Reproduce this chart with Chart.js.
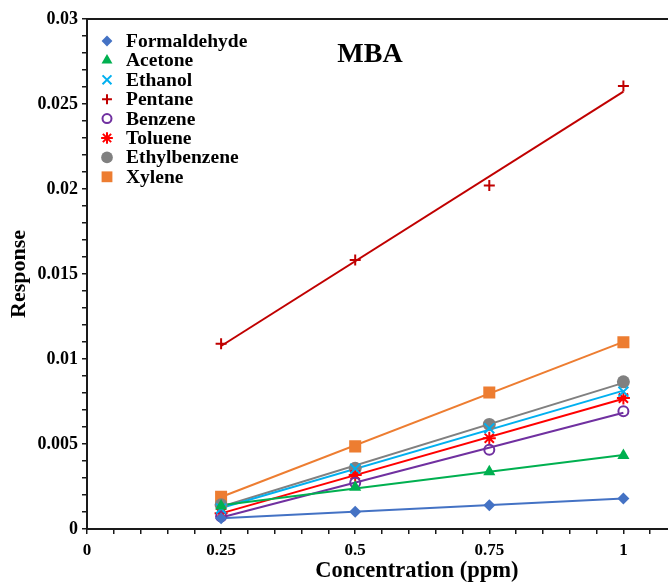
<!DOCTYPE html>
<html>
<head>
<meta charset="utf-8">
<script src="https://cdn.jsdelivr.net/npm/chart.js@4.4.1/dist/chart.umd.min.js"></script>
<style>
  html, body { margin: 0; padding: 0; overflow: hidden; background: #fff; }
  #wrap { position: relative; width: 770px; height: 582px; }
</style>
</head>
<body>
<div id="wrap"><canvas id="chart"></canvas></div>
<script>
// Sensor response of the MBA film to eight VOCs at four concentrations (ppm)
const concentrations = [0.25, 0.5, 0.75, 1];

const formaldehyde = [0.00063, 0.00102, 0.00140, 0.00179];
const acetone      = [0.00135, 0.00245, 0.00337, 0.00432];
const ethanol      = [0.00120, 0.00355, 0.00592, 0.00808];
const pentane      = [0.01090, 0.01582, 0.02020, 0.02606];
const benzene      = [0.00073, 0.00272, 0.00466, 0.00692];
const toluene      = [0.00093, 0.00318, 0.00534, 0.00770];
const ethylbenzene = [0.00142, 0.00357, 0.00615, 0.00866];
const xylene       = [0.00190, 0.00486, 0.00803, 0.01099];

const seriesNames = ['Formaldehyde', 'Acetone', 'Ethanol', 'Pentane', 'Benzene', 'Toluene', 'Ethylbenzene', 'Xylene'];

const xTickLabels = [0, 0.25, 0.5, 0.75, 1];
const yTickLabels = [0, 0.005, 0.01, 0.015, 0.02, 0.025, 0.03];
const xMinorStep = 0.05;
const yMinorStep = 0.001;
const X_MAX = 1.23;

const FONT = '"Liberation Serif", "Times New Roman", serif';
const AXIS = '#1a1a1a';

// marker / line appearance for each gas
const styles = [
  { values: formaldehyde, color: '#4472C4', line: '#4472C4', point: 'rectRot',  radius: 6,   filled: true },
  { values: acetone,      color: '#00B050', line: '#00B050', point: 'triangle', radius: 7,   filled: true },
  { values: ethanol,      color: '#00B0F0', line: '#00B0F0', point: 'crossRot', radius: 7,   filled: false },
  { values: pentane,      color: '#C00000', line: '#C00000', point: 'cross',    radius: 5.5, filled: false },
  { values: benzene,      color: '#7030A0', line: '#7030A0', point: 'circle',   radius: 5,   filled: false },
  { values: toluene,      color: '#FF0000', line: '#FF0000', point: 'star',     radius: 6.5, filled: false },
  { values: ethylbenzene, color: '#808080', line: '#808080', point: 'circle',   radius: 6.5, filled: true },
  { values: xylene,       color: '#ED7D31', line: '#ED7D31', point: 'rect',     radius: 8.5, filled: true }
];

// least-squares straight line through one series
function linearFit(xs, ys) {
  const n = xs.length;
  const mx = xs.reduce((a, b) => a + b, 0) / n;
  const my = ys.reduce((a, b) => a + b, 0) / n;
  let sxy = 0, sxx = 0;
  for (let i = 0; i < n; i++) {
    sxy += (xs[i] - mx) * (ys[i] - my);
    sxx += (xs[i] - mx) * (xs[i] - mx);
  }
  const slope = sxy / sxx;
  return x => my + slope * (x - mx);
}

const datasets = [];
styles.forEach((s, i) => {
  const fit = linearFit(concentrations, s.values);
  const x0 = concentrations[0], x1 = concentrations[concentrations.length - 1];
  datasets.push({
    type: 'line',
    label: seriesNames[i] + ' fit',
    data: [{ x: x0, y: fit(x0) }, { x: x1, y: fit(x1) }],
    borderColor: s.line,
    borderWidth: 2,
    pointRadius: 0,
    fill: false,
    order: 2
  });
});
styles.forEach((s, i) => {
  datasets.push({
    type: 'scatter',
    label: seriesNames[i],
    data: concentrations.map((c, j) => ({ x: c, y: s.values[j] })),
    pointStyle: s.point,
    pointRadius: s.radius,
    pointHoverRadius: s.radius,
    backgroundColor: s.filled ? s.color : 'rgba(255,255,255,0)',
    borderColor: s.color,
    pointBorderWidth: s.filled ? 0 : 2,
    borderWidth: s.filled ? 0 : 2,
    showLine: false,
    order: 1
  });
});

function isLabelled(v, list) {
  return list.some(t => Math.abs(t - v) < 1e-9);
}

function minorTicks(min, max, step) {
  const out = [];
  const n = Math.floor((max - min) / step + 1e-9);
  for (let i = 0; i <= n; i++) out.push({ value: +(min + i * step).toFixed(6) });
  return out;
}

// frame line, title and legend inside the plot
const decorations = {
  id: 'decorations',
  afterDraw(chart) {
    const { ctx, chartArea } = chart;
    ctx.save();
    ctx.strokeStyle = AXIS;
    ctx.lineWidth = 2;
    ctx.beginPath();
    ctx.moveTo(chartArea.left, chartArea.top);
    ctx.lineTo(chartArea.right, chartArea.top);
    ctx.stroke();

    ctx.fillStyle = '#000';
    ctx.font = 'bold 28px ' + FONT;
    ctx.textAlign = 'center';
    ctx.textBaseline = 'middle';
    ctx.fillText('MBA', chartArea.left + 283, chartArea.top + 36);

    const lx = chartArea.left + 20;
    const tx = chartArea.left + 39;
    const ly0 = chartArea.top + 22;
    const dy = 19.4;
    ctx.font = 'bold 19.5px ' + FONT;
    ctx.textAlign = 'left';
    styles.forEach((s, i) => {
      const y = ly0 + i * dy;
      ctx.fillStyle = s.filled ? s.color : 'rgba(255,255,255,0)';
      ctx.strokeStyle = s.color;
      ctx.lineWidth = 2;
      Chart.helpers.drawPoint(ctx, {
        pointStyle: s.point,
        radius: s.radius * 0.9,
        rotation: 0,
        borderWidth: s.filled ? 0 : 2
      }, lx, y);
      ctx.fillStyle = '#000';
      ctx.fillText(seriesNames[i], tx, y + 1);
    });
    ctx.restore();
  }
};

new Chart(document.getElementById('chart'), {
  data: { datasets },
  options: {
    responsive: true,
    maintainAspectRatio: false,
    animation: false,
    events: [],
    layout: { padding: { top: 19, right: 770 - 87 - X_MAX * 536.4, left: 0, bottom: 0 } },
    plugins: { legend: { display: false }, tooltip: { enabled: false } },
    scales: {
      x: {
        type: 'linear',
        min: 0,
        max: X_MAX,
        afterBuildTicks: s => { s.ticks = minorTicks(0, X_MAX, xMinorStep); },
        afterFit: s => { s.height = 53; },
        ticks: {
          autoSkip: false,
          maxRotation: 0,
          padding: 6,
          color: '#000',
          font: { family: FONT, size: 17, weight: 'bold' },
          callback: v => isLabelled(v, xTickLabels) ? String(+v.toFixed(2)) : ''
        },
        grid: { drawOnChartArea: false, drawTicks: true, tickLength: 5, color: AXIS, lineWidth: 1.5 },
        border: { display: true, color: AXIS, width: 2 },
        title: {
          display: true,
          text: 'Concentration (ppm)',
          color: '#000',
          font: { family: FONT, size: 22.5, weight: 'bold' },
          padding: { top: 0, bottom: -3 }
        }
      },
      y: {
        type: 'linear',
        min: 0,
        max: 0.03,
        afterBuildTicks: s => { s.ticks = minorTicks(0, 0.03, yMinorStep); },
        afterFit: s => { s.width = 87; },
        ticks: {
          autoSkip: false,
          padding: 4,
          color: '#000',
          font: { family: FONT, size: 18, weight: 'bold' },
          callback: v => isLabelled(v, yTickLabels) ? String(+v.toFixed(3)) : ''
        },
        grid: { drawOnChartArea: false, drawTicks: true, tickLength: 5, color: AXIS, lineWidth: 1.5 },
        border: { display: true, color: AXIS, width: 2 },
        title: {
          display: true,
          text: 'Response',
          color: '#000',
          font: { family: FONT, size: 22, weight: 'bold' },
          padding: { top: 6, bottom: 0 }
        }
      }
    }
  },
  plugins: [decorations]
});
</script>
</body>
</html>
